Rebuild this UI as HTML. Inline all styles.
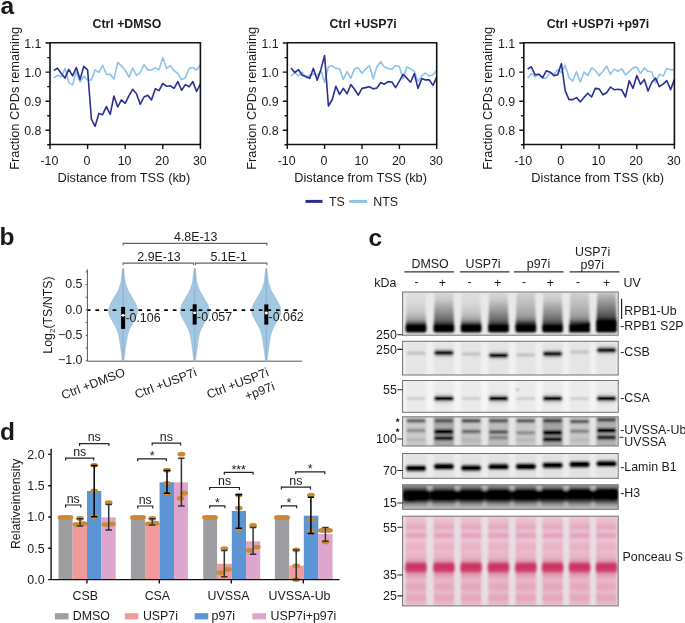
<!DOCTYPE html>
<html><head><meta charset="utf-8"><style>
html,body{margin:0;padding:0;background:#fff;}
svg{display:block;will-change:transform;}
text{font-family:"Liberation Sans", sans-serif;fill:#1a1a1a;}
.t12{font-size:12.4px;}
.t128{font-size:12.8px;}
.t131{font-size:13.1px;}
.b12{font-size:12.3px;font-weight:bold;}
.lab{font-size:24.5px;font-weight:bold;}
.t9{font-size:9px;}
</style></head><body>
<svg width="685" height="623" viewBox="0 0 685 623">
<polyline points="53.8,77.9 57.5,75.3 61.3,76.8 65.0,68.5 68.8,82.6 72.6,84.9 76.3,71.7 80.1,82.0 83.8,76.2 87.6,80.0 91.4,80.0 95.1,69.8 98.9,72.3 102.6,65.3 106.4,74.5 110.2,74.3 113.9,79.1 117.7,62.4 121.4,65.9 125.2,70.2 129.0,77.1 132.7,68.1 136.5,75.4 140.2,72.6 144.0,64.5 147.8,70.0 151.5,70.0 155.3,67.9 159.0,69.7 162.8,57.6 166.6,68.5 170.3,65.5 174.1,70.7 177.8,73.5 181.6,79.7 185.4,77.7 189.1,68.4 192.9,67.5 196.6,70.0 200.4,64.5" fill="none" stroke="#8cc3ea" stroke-width="1.6" stroke-linejoin="round"/>
<polyline points="53.8,70.4 57.5,68.2 61.3,73.6 65.0,78.1 68.8,69.4 72.6,75.9 76.3,67.5 80.1,79.4 83.8,66.3 87.6,69.8 91.4,119.2 95.1,126.3 98.9,113.4 102.6,114.7 106.4,106.6 110.2,114.3 113.9,96.1 117.7,107.0 121.4,99.9 125.2,103.3 129.0,95.7 132.7,89.3 136.5,93.8 140.2,104.3 144.0,97.0 147.8,95.3 151.5,100.0 155.3,88.7 159.0,90.6 162.8,83.5 166.6,86.3 170.3,85.8 174.1,88.4 177.8,81.6 181.6,90.2 185.4,84.6 189.1,86.7 192.9,81.6 196.6,91.5 200.4,83.9" fill="none" stroke="#2b2f8f" stroke-width="1.6" stroke-linejoin="round"/>
<path d="M50.0,144.5 V42.8 H200.4 V144.5 Z" fill="none" stroke="#111" stroke-width="1.6"/>
<path d="M45.5,43.0H50.0M47.2,57.6H50.0M45.5,72.1H50.0M47.2,86.6H50.0M45.5,101.2H50.0M47.2,115.7H50.0M45.5,130.2H50.0M47.2,144.8H50.0M50.0,144.5V148.9M87.6,144.5V148.9M125.2,144.5V148.9M162.8,144.5V148.9M200.4,144.5V148.9" stroke="#111" stroke-width="1.4"/>
<text x="41.4" y="48.0" text-anchor="end" class="t12">1.1</text>
<text x="41.4" y="77.1" text-anchor="end" class="t12">1.0</text>
<text x="41.4" y="106.2" text-anchor="end" class="t12">0.9</text>
<text x="41.4" y="135.2" text-anchor="end" class="t12">0.8</text>
<text x="49.4" y="164.6" text-anchor="middle" class="t12">-10</text>
<text x="87.0" y="164.6" text-anchor="middle" class="t12">0</text>
<text x="124.6" y="164.6" text-anchor="middle" class="t12">10</text>
<text x="162.2" y="164.6" text-anchor="middle" class="t12">20</text>
<text x="199.8" y="164.6" text-anchor="middle" class="t12">30</text>
<text x="126.9" y="27.8" text-anchor="middle" class="b12">Ctrl +DMSO</text>
<text x="123.8" y="182.3" text-anchor="middle" class="t128">Distance from TSS (kb)</text>
<text transform="translate(18.6,98.3) rotate(-90)" text-anchor="middle" class="t128">Fraction CPDs remaining</text>
<polyline points="291.0,76.2 294.8,72.6 298.5,75.8 302.2,72.2 306.0,78.1 309.7,75.2 313.4,73.9 317.2,75.8 320.9,70.7 324.6,82.2 328.4,66.8 332.1,65.8 335.9,68.4 339.6,68.8 343.3,79.4 347.1,71.7 350.8,78.4 354.5,68.8 358.3,67.9 362.0,73.3 365.7,68.8 369.5,65.5 373.2,79.0 376.9,66.8 380.7,61.7 384.4,67.1 388.1,68.5 391.9,69.1 395.6,65.5 399.4,66.6 403.1,79.0 406.8,67.1 410.6,68.8 414.3,71.3 418.0,81.2 421.8,75.6 425.5,73.0 429.2,76.1 433.0,74.8 436.7,70.4" fill="none" stroke="#8cc3ea" stroke-width="1.6" stroke-linejoin="round"/>
<polyline points="291.0,67.9 294.8,72.6 298.5,69.7 302.2,75.2 306.0,76.5 309.7,78.4 313.4,68.4 317.2,80.3 320.9,69.4 324.6,55.5 328.4,106.0 332.1,100.0 335.9,86.3 339.6,94.4 343.3,88.4 347.1,93.8 350.8,84.6 354.5,89.3 358.3,95.1 362.0,88.4 365.7,87.6 369.5,86.7 373.2,88.9 376.9,88.0 380.7,82.5 384.4,84.2 388.1,81.6 391.9,82.0 395.6,87.6 399.4,81.2 403.1,74.3 406.8,78.1 410.6,82.2 414.3,73.5 418.0,88.4 421.8,78.6 425.5,79.9 429.2,79.7 433.0,85.4 436.7,77.1" fill="none" stroke="#2b2f8f" stroke-width="1.6" stroke-linejoin="round"/>
<path d="M287.3,144.5 V42.8 H436.7 V144.5 Z" fill="none" stroke="#111" stroke-width="1.6"/>
<path d="M282.8,43.0H287.3M284.5,57.6H287.3M282.8,72.1H287.3M284.5,86.6H287.3M282.8,101.2H287.3M284.5,115.7H287.3M282.8,130.2H287.3M284.5,144.8H287.3M287.3,144.5V148.9M324.6,144.5V148.9M362.0,144.5V148.9M399.4,144.5V148.9M436.7,144.5V148.9" stroke="#111" stroke-width="1.4"/>
<text x="278.7" y="48.0" text-anchor="end" class="t12">1.1</text>
<text x="278.7" y="77.1" text-anchor="end" class="t12">1.0</text>
<text x="278.7" y="106.2" text-anchor="end" class="t12">0.9</text>
<text x="278.7" y="135.2" text-anchor="end" class="t12">0.8</text>
<text x="286.7" y="164.6" text-anchor="middle" class="t12">-10</text>
<text x="324.0" y="164.6" text-anchor="middle" class="t12">0</text>
<text x="361.4" y="164.6" text-anchor="middle" class="t12">10</text>
<text x="398.8" y="164.6" text-anchor="middle" class="t12">20</text>
<text x="436.1" y="164.6" text-anchor="middle" class="t12">30</text>
<text x="363.1" y="27.8" text-anchor="middle" class="b12">Ctrl +USP7i</text>
<text x="360.6" y="182.3" text-anchor="middle" class="t128">Distance from TSS (kb)</text>
<text transform="translate(255.9,98.3) rotate(-90)" text-anchor="middle" class="t128">Fraction CPDs remaining</text>
<polyline points="527.6,78.1 531.3,73.5 535.1,76.8 538.9,73.9 542.6,78.1 546.4,78.1 550.2,72.2 553.9,74.5 557.7,69.7 561.4,72.6 565.2,65.3 569.0,77.7 572.7,81.2 576.5,71.7 580.3,82.0 584.0,72.2 587.8,75.6 591.6,67.9 595.3,70.4 599.1,75.6 602.9,71.3 606.6,66.2 610.4,74.3 614.2,69.1 617.9,71.3 621.7,68.8 625.5,74.8 629.2,71.7 633.0,67.9 636.8,67.1 640.5,73.5 644.3,67.9 648.0,71.3 651.8,72.0 655.6,82.9 659.3,74.3 663.1,76.1 666.9,68.4 670.6,69.7 674.4,69.7" fill="none" stroke="#8cc3ea" stroke-width="1.6" stroke-linejoin="round"/>
<polyline points="527.6,69.1 531.3,66.8 535.1,74.8 538.9,74.3 542.6,77.7 546.4,70.7 550.2,72.2 553.9,75.6 557.7,74.8 561.4,63.6 565.2,90.6 569.0,99.6 572.7,99.6 576.5,97.6 580.3,101.8 584.0,97.4 587.8,93.2 591.6,97.0 595.3,88.4 599.1,88.9 602.9,94.8 606.6,92.8 610.4,87.1 614.2,89.7 617.9,89.3 621.7,89.9 625.5,97.0 629.2,80.7 633.0,88.4 636.8,75.6 640.5,84.2 644.3,79.4 648.0,91.0 651.8,82.2 655.6,78.1 659.3,86.7 663.1,84.2 666.9,80.7 670.6,89.7 674.4,79.4" fill="none" stroke="#2b2f8f" stroke-width="1.6" stroke-linejoin="round"/>
<path d="M523.8,144.5 V42.8 H674.4 V144.5 Z" fill="none" stroke="#111" stroke-width="1.6"/>
<path d="M519.3,43.0H523.8M521.0,57.6H523.8M519.3,72.1H523.8M521.0,86.6H523.8M519.3,101.2H523.8M521.0,115.7H523.8M519.3,130.2H523.8M521.0,144.8H523.8M523.8,144.5V148.9M561.4,144.5V148.9M599.1,144.5V148.9M636.8,144.5V148.9M674.4,144.5V148.9" stroke="#111" stroke-width="1.4"/>
<text x="515.2" y="48.0" text-anchor="end" class="t12">1.1</text>
<text x="515.2" y="77.1" text-anchor="end" class="t12">1.0</text>
<text x="515.2" y="106.2" text-anchor="end" class="t12">0.9</text>
<text x="515.2" y="135.2" text-anchor="end" class="t12">0.8</text>
<text x="523.2" y="164.6" text-anchor="middle" class="t12">-10</text>
<text x="560.8" y="164.6" text-anchor="middle" class="t12">0</text>
<text x="598.5" y="164.6" text-anchor="middle" class="t12">10</text>
<text x="636.1" y="164.6" text-anchor="middle" class="t12">20</text>
<text x="673.8" y="164.6" text-anchor="middle" class="t12">30</text>
<text x="597.9" y="27.8" text-anchor="middle" class="b12">Ctrl +USP7i +p97i</text>
<text x="597.7" y="182.3" text-anchor="middle" class="t128">Distance from TSS (kb)</text>
<text transform="translate(492.4,98.3) rotate(-90)" text-anchor="middle" class="t128">Fraction CPDs remaining</text>
<path d="M305.5,201.4H322.5" stroke="#2b2f8f" stroke-width="3"/>
<path d="M349.3,201.4H367.2" stroke="#8cc3ea" stroke-width="3"/>
<text x="329" y="205.6" class="t12">TS</text>
<text x="373.3" y="205.6" class="t12">NTS</text>
<text x="0.5" y="13.7" class="lab">a</text>
<path d="M87.4,269.3V361.2H302.3" fill="none" stroke="#555" stroke-width="1"/>
<path d="M85.6,271.8H87.4M85.6,284.5H87.4M85.6,297.2H87.4M85.6,309.9H87.4M85.6,322.6H87.4M85.6,335.3H87.4M85.6,348.0H87.4M85.6,360.7H87.4" stroke="#555" stroke-width="0.9"/>
<text x="82.5" y="288.1" text-anchor="end" class="t12">0.5</text>
<text x="82.5" y="313.5" text-anchor="end" class="t12">0.0</text>
<text x="82.5" y="338.9" text-anchor="end" class="t12">−0.5</text>
<text x="82.5" y="364.3" text-anchor="end" class="t12">−1.0</text>
<text transform="translate(52.3,315) rotate(-90)" text-anchor="middle" class="t12">Log<tspan font-size="8" dy="3">2</tspan><tspan dy="-3">(TS/NTS)</tspan></text>
<path d="M122.60,268.60C122.40,270.28 121.67,276.47 121.40,278.70C121.13,280.93 121.30,280.67 121.00,282.00C120.70,283.33 120.13,285.15 119.60,286.70C119.07,288.25 118.57,289.75 117.80,291.30C117.03,292.85 115.90,294.45 115.00,296.00C114.10,297.55 113.25,299.05 112.40,300.60C111.55,302.15 110.50,303.75 109.90,305.30C109.30,306.85 108.92,308.35 108.80,309.90C108.68,311.45 108.77,313.05 109.20,314.60C109.63,316.15 110.60,317.65 111.40,319.20C112.20,320.75 113.17,322.33 114.00,323.90C114.83,325.47 115.70,327.05 116.40,328.60C117.10,330.15 117.73,331.65 118.20,333.20C118.67,334.75 118.92,336.38 119.20,337.90C119.48,339.42 119.58,340.18 119.90,342.30C120.22,344.42 120.72,347.82 121.10,350.60C121.48,353.38 121.93,357.17 122.20,359.00C122.47,360.83 122.48,361.17 122.70,361.60C122.92,362.03 123.28,362.03 123.50,361.60C123.72,361.17 123.73,360.83 124.00,359.00C124.27,357.17 124.72,353.38 125.10,350.60C125.48,347.82 125.98,344.42 126.30,342.30C126.62,340.18 126.72,339.42 127.00,337.90C127.28,336.38 127.53,334.75 128.00,333.20C128.47,331.65 129.10,330.15 129.80,328.60C130.50,327.05 131.37,325.47 132.20,323.90C133.03,322.33 134.00,320.75 134.80,319.20C135.60,317.65 136.57,316.15 137.00,314.60C137.43,313.05 137.52,311.45 137.40,309.90C137.28,308.35 136.90,306.85 136.30,305.30C135.70,303.75 134.65,302.15 133.80,300.60C132.95,299.05 132.10,297.55 131.20,296.00C130.30,294.45 129.17,292.85 128.40,291.30C127.63,289.75 127.13,288.25 126.60,286.70C126.07,285.15 125.50,283.33 125.20,282.00C124.90,280.67 125.07,280.93 124.80,278.70C124.53,276.47 123.80,270.28 123.60,268.60Z" fill="#a3c8e2" stroke="#8fb6d4" stroke-width="0.6"/>
<path d="M123.1,268.7V361.5" stroke="#86a9c6" stroke-width="0.8"/>
<path d="M194.20,268.60C194.00,270.28 193.27,276.47 193.00,278.70C192.73,280.93 192.90,280.67 192.60,282.00C192.30,283.33 191.73,285.15 191.20,286.70C190.67,288.25 190.17,289.75 189.40,291.30C188.63,292.85 187.50,294.45 186.60,296.00C185.70,297.55 184.85,299.05 184.00,300.60C183.15,302.15 182.10,303.75 181.50,305.30C180.90,306.85 180.52,308.35 180.40,309.90C180.28,311.45 180.37,313.05 180.80,314.60C181.23,316.15 182.20,317.65 183.00,319.20C183.80,320.75 184.77,322.33 185.60,323.90C186.43,325.47 187.30,327.05 188.00,328.60C188.70,330.15 189.33,331.65 189.80,333.20C190.27,334.75 190.52,336.38 190.80,337.90C191.08,339.42 191.18,340.18 191.50,342.30C191.82,344.42 192.32,347.82 192.70,350.60C193.08,353.38 193.53,357.17 193.80,359.00C194.07,360.83 194.08,361.17 194.30,361.60C194.52,362.03 194.88,362.03 195.10,361.60C195.32,361.17 195.33,360.83 195.60,359.00C195.87,357.17 196.32,353.38 196.70,350.60C197.08,347.82 197.58,344.42 197.90,342.30C198.22,340.18 198.32,339.42 198.60,337.90C198.88,336.38 199.13,334.75 199.60,333.20C200.07,331.65 200.70,330.15 201.40,328.60C202.10,327.05 202.97,325.47 203.80,323.90C204.63,322.33 205.60,320.75 206.40,319.20C207.20,317.65 208.17,316.15 208.60,314.60C209.03,313.05 209.12,311.45 209.00,309.90C208.88,308.35 208.50,306.85 207.90,305.30C207.30,303.75 206.25,302.15 205.40,300.60C204.55,299.05 203.70,297.55 202.80,296.00C201.90,294.45 200.77,292.85 200.00,291.30C199.23,289.75 198.73,288.25 198.20,286.70C197.67,285.15 197.10,283.33 196.80,282.00C196.50,280.67 196.67,280.93 196.40,278.70C196.13,276.47 195.40,270.28 195.20,268.60Z" fill="#a3c8e2" stroke="#8fb6d4" stroke-width="0.6"/>
<path d="M194.7,268.7V361.5" stroke="#86a9c6" stroke-width="0.8"/>
<path d="M265.80,268.60C265.60,270.28 264.87,276.47 264.60,278.70C264.33,280.93 264.50,280.67 264.20,282.00C263.90,283.33 263.33,285.15 262.80,286.70C262.27,288.25 261.77,289.75 261.00,291.30C260.23,292.85 259.10,294.45 258.20,296.00C257.30,297.55 256.45,299.05 255.60,300.60C254.75,302.15 253.70,303.75 253.10,305.30C252.50,306.85 252.12,308.35 252.00,309.90C251.88,311.45 251.97,313.05 252.40,314.60C252.83,316.15 253.80,317.65 254.60,319.20C255.40,320.75 256.37,322.33 257.20,323.90C258.03,325.47 258.90,327.05 259.60,328.60C260.30,330.15 260.93,331.65 261.40,333.20C261.87,334.75 262.12,336.38 262.40,337.90C262.68,339.42 262.78,340.18 263.10,342.30C263.42,344.42 263.92,347.82 264.30,350.60C264.68,353.38 265.13,357.17 265.40,359.00C265.67,360.83 265.68,361.17 265.90,361.60C266.12,362.03 266.48,362.03 266.70,361.60C266.92,361.17 266.93,360.83 267.20,359.00C267.47,357.17 267.92,353.38 268.30,350.60C268.68,347.82 269.18,344.42 269.50,342.30C269.82,340.18 269.92,339.42 270.20,337.90C270.48,336.38 270.73,334.75 271.20,333.20C271.67,331.65 272.30,330.15 273.00,328.60C273.70,327.05 274.57,325.47 275.40,323.90C276.23,322.33 277.20,320.75 278.00,319.20C278.80,317.65 279.77,316.15 280.20,314.60C280.63,313.05 280.72,311.45 280.60,309.90C280.48,308.35 280.10,306.85 279.50,305.30C278.90,303.75 277.85,302.15 277.00,300.60C276.15,299.05 275.30,297.55 274.40,296.00C273.50,294.45 272.37,292.85 271.60,291.30C270.83,289.75 270.33,288.25 269.80,286.70C269.27,285.15 268.70,283.33 268.40,282.00C268.10,280.67 268.27,280.93 268.00,278.70C267.73,276.47 267.00,270.28 266.80,268.60Z" fill="#a3c8e2" stroke="#8fb6d4" stroke-width="0.6"/>
<path d="M266.3,268.7V361.5" stroke="#86a9c6" stroke-width="0.8"/>
<path d="M87.8,310.1H302.3" stroke="#000" stroke-width="1.6" stroke-dasharray="3.7,4.9" stroke-dashoffset="1.0"/>
<rect x="121.1" y="306.9" width="4.0" height="22.0" fill="#000"/>
<ellipse cx="123.1" cy="315.3" rx="1.7" ry="1.4" fill="#fff"/>
<text x="125.4" y="322.0" class="t12">-0.106</text>
<rect x="192.7" y="304.3" width="4.0" height="20.3" fill="#000"/>
<ellipse cx="194.7" cy="312.8" rx="1.7" ry="1.4" fill="#fff"/>
<text x="197.0" y="320.8" class="t12">-0.057</text>
<rect x="264.3" y="304.4" width="4.0" height="20.2" fill="#000"/>
<ellipse cx="266.3" cy="313.0" rx="1.7" ry="1.4" fill="#fff"/>
<text x="268.6" y="320.8" class="t12">-0.062</text>
<path d="M123.1,245.5V243.4H266.9V245.5 M123.1,265.2V263.1H193.6V265.2 M195.4,265.2V263.1H266.9V265.2" fill="none" stroke="#666" stroke-width="1.1"/>
<text x="195.7" y="240.8" text-anchor="middle" class="t12">4.8E-13</text>
<text x="159" y="260.5" text-anchor="middle" class="t12">2.9E-13</text>
<text x="228.7" y="260.5" text-anchor="middle" class="t12">5.1E-1</text>
<text transform="translate(126,375.5) rotate(-21)" text-anchor="end" class="t12">Ctrl +DMSO</text>
<text transform="translate(197.5,375.5) rotate(-21)" text-anchor="end" class="t12">Ctrl +USP7i</text>
<text transform="translate(269.5,375.5) rotate(-21)" text-anchor="end" class="t12">Ctrl +USP7i</text>
<text transform="translate(275.5,389.6) rotate(-21)" text-anchor="end" class="t12">+p97i</text>
<text x="-0.4" y="245.3" class="lab">b</text>
<defs>
<filter id="bl" x="-20%" y="-20%" width="140%" height="140%"><feGaussianBlur stdDeviation="0.9"/></filter>
<filter id="bl2" x="-20%" y="-20%" width="140%" height="140%"><feGaussianBlur stdDeviation="0.9"/></filter>
<clipPath id="c_rpb"><rect x="402.6" y="292.0" width="215.6" height="43.2"/></clipPath>
<clipPath id="c_csb"><rect x="402.6" y="341.3" width="215.6" height="33.7"/></clipPath>
<clipPath id="c_csa"><rect x="402.6" y="380.5" width="215.6" height="31.8"/></clipPath>
<clipPath id="c_uv"><rect x="402.6" y="416.8" width="215.6" height="29.2"/></clipPath>
<clipPath id="c_lam"><rect x="402.6" y="453.5" width="215.6" height="24.8"/></clipPath>
<clipPath id="c_h3"><rect x="402.6" y="484.8" width="215.6" height="24.5"/></clipPath>
<clipPath id="c_pon"><rect x="402.6" y="516.2" width="215.6" height="89.7"/></clipPath>
<linearGradient id="gm" gradientUnits="userSpaceOnUse" x1="0" y1="293" x2="0" y2="325"><stop offset="0.000" stop-color="#dedede"/><stop offset="0.375" stop-color="#d6d6d6"/><stop offset="0.625" stop-color="#c4c4c4"/><stop offset="0.781" stop-color="#acacac"/><stop offset="0.875" stop-color="#8a8a8a"/><stop offset="0.953" stop-color="#404040"/><stop offset="1.000" stop-color="#111"/></linearGradient>
<linearGradient id="gm5" gradientUnits="userSpaceOnUse" x1="0" y1="293" x2="0" y2="324.5"><stop offset="0.000" stop-color="#cecece"/><stop offset="0.222" stop-color="#c4c4c4"/><stop offset="0.476" stop-color="#b4b4b4"/><stop offset="0.698" stop-color="#a2a2a2"/><stop offset="0.825" stop-color="#888"/><stop offset="0.937" stop-color="#404040"/><stop offset="1.000" stop-color="#111"/></linearGradient>
<linearGradient id="gp" gradientUnits="userSpaceOnUse" x1="0" y1="293" x2="0" y2="325"><stop offset="0.000" stop-color="#d6d6d6"/><stop offset="0.219" stop-color="#c8c8c8"/><stop offset="0.406" stop-color="#acacac"/><stop offset="0.562" stop-color="#969696"/><stop offset="0.719" stop-color="#7e7e7e"/><stop offset="0.844" stop-color="#666"/><stop offset="0.938" stop-color="#444"/><stop offset="1.000" stop-color="#111"/></linearGradient>
<linearGradient id="gp8" gradientUnits="userSpaceOnUse" x1="0" y1="293" x2="0" y2="319.5"><stop offset="0.000" stop-color="#bcbcbc"/><stop offset="0.189" stop-color="#acacac"/><stop offset="0.377" stop-color="#939393"/><stop offset="0.566" stop-color="#7c7c7c"/><stop offset="0.755" stop-color="#646464"/><stop offset="0.906" stop-color="#4a4a4a"/><stop offset="1.000" stop-color="#222"/></linearGradient>
<linearGradient id="gh3" gradientUnits="userSpaceOnUse" x1="0" y1="484.5" x2="0" y2="509.5"><stop offset="0.000" stop-color="#9a9a9a"/><stop offset="0.100" stop-color="#808080"/><stop offset="0.200" stop-color="#444"/><stop offset="0.300" stop-color="#111"/><stop offset="0.580" stop-color="#111"/><stop offset="0.700" stop-color="#555"/><stop offset="0.820" stop-color="#a0a0a0"/><stop offset="1.000" stop-color="#c4c4c4"/></linearGradient>
<linearGradient id="gpon" gradientUnits="userSpaceOnUse" x1="0" y1="516" x2="0" y2="606"><stop offset="0.000" stop-color="#eec8d6"/><stop offset="0.067" stop-color="#eabccc"/><stop offset="0.130" stop-color="#e2a6bc"/><stop offset="0.167" stop-color="#ecc2d2"/><stop offset="0.218" stop-color="#e09eb8"/><stop offset="0.267" stop-color="#edc6d4"/><stop offset="0.333" stop-color="#e6b0c4"/><stop offset="0.400" stop-color="#eabacc"/><stop offset="0.467" stop-color="#e6b0c4"/><stop offset="0.506" stop-color="#de92ae"/><stop offset="0.528" stop-color="#d04270"/><stop offset="0.556" stop-color="#c82c5c"/><stop offset="0.589" stop-color="#cc3664"/><stop offset="0.617" stop-color="#d4587e"/><stop offset="0.644" stop-color="#e096b0"/><stop offset="0.711" stop-color="#eab8ca"/><stop offset="0.796" stop-color="#e2a6bc"/><stop offset="0.844" stop-color="#eabacc"/><stop offset="0.909" stop-color="#e0a2ba"/><stop offset="0.956" stop-color="#e8b4c6"/><stop offset="1.000" stop-color="#eabccc"/></linearGradient>
</defs>
<g clip-path="url(#c_rpb)"><rect x="402.6" y="292.0" width="215.6" height="43.2" fill="#e8e8e8"/>
<g filter="url(#bl)"><path d="M406.9,293 H425.1 L426.2,328 H405.8 Z" fill="url(#gm)"/><rect x="405.6" y="324.0" width="20.8" height="8.6" rx="2" fill="#050505"/><path d="M434.8,293 H453.0 L454.1,328 H433.7 Z" fill="url(#gp)"/><rect x="433.5" y="324.6" width="20.8" height="8.0" rx="2" fill="#050505"/><path d="M462.0,293 H480.2 L481.3,328 H460.9 Z" fill="url(#gm)"/><rect x="460.7" y="324.0" width="20.8" height="8.6" rx="2" fill="#050505"/><path d="M489.4,293 H507.6 L508.7,328 H488.3 Z" fill="url(#gp)"/><rect x="488.1" y="324.4" width="20.8" height="8.2" rx="2" fill="#050505"/><path d="M516.7,293 H534.9 L536.0,328 H515.6 Z" fill="url(#gm5)"/><rect x="515.4" y="324.2" width="20.8" height="8.4" rx="2" fill="#050505"/><path d="M543.5,293 H561.7 L562.8,328 H542.4 Z" fill="url(#gp)"/><rect x="542.2" y="324.8" width="20.8" height="7.8" rx="2" fill="#050505"/><path d="M570.5,293 H588.7 L589.8,328 H569.4 Z" fill="url(#gm5)"/><path d="M569.2,325.2 L590.0,322.2 V332.6 H569.2 Z" fill="#050505"/><path d="M597.4,293 H615.6 L616.7,328 H596.3 Z" fill="url(#gp8)"/><rect x="596.1" y="319.8" width="20.8" height="12.8" rx="2" fill="#050505"/></g></g>
<rect x="402.6" y="292.0" width="215.6" height="43.2" fill="none" stroke="#707070" stroke-width="1"/>
<g clip-path="url(#c_csb)"><rect x="402.6" y="341.3" width="215.6" height="33.7" fill="#f0f0f0"/>
<g filter="url(#bl)"><rect x="405.8" y="342" width="20.4" height="33" fill="#e5e5e5"/><rect x="406.6" y="351.7" width="18.9" height="3.0" rx="1.5" fill="#bdbdbd" opacity="1"/><rect x="433.7" y="342" width="20.4" height="33" fill="#e5e5e5"/><rect x="433.7" y="347.9" width="20.4" height="10.0" rx="4" fill="#c8c8c8" opacity="0.6"/><rect x="434.2" y="350.5" width="19.4" height="4.8" rx="2.4" fill="#000" opacity="1"/><rect x="460.9" y="342" width="20.4" height="33" fill="#e5e5e5"/><rect x="461.7" y="352.6" width="18.9" height="3.0" rx="1.5" fill="#bdbdbd" opacity="1"/><rect x="488.3" y="342" width="20.4" height="33" fill="#e5e5e5"/><rect x="488.3" y="350.3" width="20.4" height="10.0" rx="4" fill="#c8c8c8" opacity="0.6"/><rect x="488.8" y="352.9" width="19.4" height="4.8" rx="2.4" fill="#000" opacity="1"/><rect x="515.6" y="342" width="20.4" height="33" fill="#e5e5e5"/><rect x="516.3" y="353.4" width="18.9" height="3.0" rx="1.5" fill="#bdbdbd" opacity="1"/><rect x="542.4" y="342" width="20.4" height="33" fill="#e5e5e5"/><rect x="542.4" y="348.8" width="20.4" height="10.0" rx="4" fill="#c8c8c8" opacity="0.6"/><rect x="542.9" y="351.4" width="19.4" height="4.8" rx="2.4" fill="#000" opacity="1"/><rect x="569.4" y="342" width="20.4" height="33" fill="#e5e5e5"/><rect x="570.1" y="350.6" width="18.9" height="3.0" rx="1.5" fill="#bdbdbd" opacity="1"/><rect x="596.3" y="342" width="20.4" height="33" fill="#e5e5e5"/><rect x="596.3" y="345.2" width="20.4" height="10.0" rx="4" fill="#c8c8c8" opacity="0.6"/><rect x="596.8" y="347.8" width="19.4" height="4.8" rx="2.4" fill="#000" opacity="1"/></g></g>
<rect x="402.6" y="341.3" width="215.6" height="33.7" fill="none" stroke="#707070" stroke-width="1"/>
<g clip-path="url(#c_csa)"><rect x="402.6" y="380.5" width="215.6" height="31.8" fill="#f5f5f5"/>
<g filter="url(#bl)"><rect x="405.8" y="381" width="20.4" height="31" fill="#ebebeb"/><rect x="406.6" y="397.3" width="18.9" height="2.8" rx="1.5" fill="#cacaca" opacity="1"/><rect x="433.7" y="381" width="20.4" height="31" fill="#ebebeb"/><rect x="433.7" y="392.5" width="20.4" height="12.0" rx="5" fill="#cfcfcf" opacity="0.6"/><rect x="434.2" y="395.9" width="19.4" height="5.2" rx="2.5" fill="#000" opacity="1"/><rect x="460.9" y="381" width="20.4" height="31" fill="#ebebeb"/><rect x="461.7" y="397.3" width="18.9" height="2.8" rx="1.5" fill="#cacaca" opacity="1"/><rect x="488.3" y="381" width="20.4" height="31" fill="#ebebeb"/><rect x="488.3" y="392.5" width="20.4" height="12.0" rx="5" fill="#cfcfcf" opacity="0.6"/><rect x="488.8" y="395.9" width="19.4" height="5.2" rx="2.5" fill="#000" opacity="1"/><rect x="515.6" y="381" width="20.4" height="31" fill="#ebebeb"/><rect x="516.3" y="397.3" width="18.9" height="2.8" rx="1.5" fill="#cacaca" opacity="1"/><rect x="542.4" y="381" width="20.4" height="31" fill="#ebebeb"/><rect x="542.4" y="392.5" width="20.4" height="12.0" rx="5" fill="#cfcfcf" opacity="0.6"/><rect x="542.9" y="395.9" width="19.4" height="5.2" rx="2.5" fill="#000" opacity="1"/><rect x="569.4" y="381" width="20.4" height="31" fill="#ebebeb"/><rect x="570.1" y="397.3" width="18.9" height="2.8" rx="1.5" fill="#cacaca" opacity="1"/><rect x="596.3" y="381" width="20.4" height="31" fill="#ebebeb"/><rect x="596.3" y="392.5" width="20.4" height="12.0" rx="5" fill="#cfcfcf" opacity="0.6"/><rect x="596.8" y="395.9" width="19.4" height="5.2" rx="2.5" fill="#000" opacity="1"/><ellipse cx="517.5" cy="389.7" rx="1.5" ry="0.9" fill="#888"/></g></g>
<rect x="402.6" y="380.5" width="215.6" height="31.8" fill="none" stroke="#707070" stroke-width="1"/>
<g clip-path="url(#c_uv)"><rect x="402.6" y="416.8" width="215.6" height="29.2" fill="#e4e4e4"/>
<g filter="url(#bl)"><rect x="405.8" y="416" width="20.4" height="31" fill="#cacaca"/><rect x="406.6" y="419.1" width="18.9" height="3.4" rx="1.5" fill="#555" opacity="1"/><rect x="406.6" y="428.8" width="18.9" height="3.4" rx="1.5" fill="#8a8a8a" opacity="1"/><rect x="406.6" y="437.9" width="18.9" height="3.2" rx="1.5" fill="#b4b4b4" opacity="1"/><rect x="433.7" y="416" width="20.4" height="31" fill="#a8a8a8"/><rect x="434.4" y="419.1" width="18.9" height="3.4" rx="1.5" fill="#4a4a4a" opacity="1"/><rect x="434.4" y="429.3" width="18.9" height="5.0" rx="1.5" fill="#000" opacity="1"/><rect x="434.4" y="435.9" width="18.9" height="4.3" rx="1.5" fill="#000" opacity="1"/><rect x="460.9" y="416" width="20.4" height="31" fill="#c4c4c4"/><rect x="461.7" y="419.1" width="18.9" height="3.4" rx="1.5" fill="#3a3a3a" opacity="1"/><rect x="461.7" y="429.8" width="18.9" height="3.4" rx="1.5" fill="#606060" opacity="1"/><rect x="461.7" y="438.4" width="18.9" height="3.2" rx="1.5" fill="#b4b4b4" opacity="1"/><rect x="488.3" y="416" width="20.4" height="31" fill="#bcbcbc"/><rect x="489.1" y="419.1" width="18.9" height="3.4" rx="1.5" fill="#484848" opacity="1"/><rect x="489.1" y="430.3" width="18.9" height="3.4" rx="1.5" fill="#484848" opacity="1"/><rect x="489.1" y="436.0" width="18.9" height="3.2" rx="1.5" fill="#7a7a7a" opacity="1"/><rect x="515.6" y="416" width="20.4" height="31" fill="#c8c8c8"/><rect x="516.3" y="419.1" width="18.9" height="3.4" rx="1.5" fill="#484848" opacity="1"/><rect x="516.3" y="431.1" width="18.9" height="3.4" rx="1.5" fill="#8a8a8a" opacity="1"/><rect x="516.3" y="438.4" width="18.9" height="3.2" rx="1.5" fill="#b4b4b4" opacity="1"/><rect x="542.4" y="416" width="20.4" height="31" fill="#a4a4a4"/><rect x="543.1" y="419.1" width="18.9" height="3.4" rx="1.5" fill="#303030" opacity="1"/><rect x="543.1" y="430.3" width="18.9" height="5.0" rx="1.5" fill="#000" opacity="1"/><rect x="543.1" y="437.1" width="18.9" height="4.3" rx="1.5" fill="#000" opacity="1"/><rect x="569.4" y="416" width="20.4" height="31" fill="#c8c8c8"/><rect x="570.1" y="419.8" width="18.9" height="3.4" rx="1.5" fill="#484848" opacity="1"/><rect x="570.1" y="429.6" width="18.9" height="3.4" rx="1.5" fill="#808080" opacity="1"/><rect x="570.1" y="438.4" width="18.9" height="3.2" rx="1.5" fill="#b8b8b8" opacity="1"/><rect x="596.3" y="416" width="20.4" height="31" fill="#b0b0b0"/><rect x="597.0" y="418.1" width="18.9" height="3.4" rx="1.5" fill="#383838" opacity="1"/><rect x="597.0" y="428.0" width="18.9" height="5.0" rx="1.5" fill="#000" opacity="1"/><rect x="597.0" y="435.2" width="18.9" height="4.3" rx="1.5" fill="#1a1a1a" opacity="1"/></g></g>
<rect x="402.6" y="416.8" width="215.6" height="29.2" fill="none" stroke="#707070" stroke-width="1"/>
<g clip-path="url(#c_lam)"><rect x="402.6" y="453.5" width="215.6" height="24.8" fill="#ececec"/>
<g filter="url(#bl)"><rect x="405.8" y="454" width="20.4" height="24" fill="#e2e2e2"/><rect x="405.9" y="464.9" width="20.2" height="6.6" rx="2.8" fill="#050505" opacity="1"/><rect x="433.7" y="454" width="20.4" height="24" fill="#e2e2e2"/><rect x="433.8" y="463.3" width="20.2" height="6.6" rx="2.8" fill="#050505" opacity="1"/><rect x="460.9" y="454" width="20.4" height="24" fill="#e2e2e2"/><rect x="461.0" y="464.7" width="20.2" height="6.6" rx="2.8" fill="#050505" opacity="1"/><rect x="488.3" y="454" width="20.4" height="24" fill="#e2e2e2"/><rect x="488.4" y="463.5" width="20.2" height="6.6" rx="2.8" fill="#050505" opacity="1"/><rect x="515.6" y="454" width="20.4" height="24" fill="#e2e2e2"/><rect x="515.7" y="463.3" width="20.2" height="6.6" rx="2.8" fill="#050505" opacity="1"/><rect x="542.4" y="454" width="20.4" height="24" fill="#e2e2e2"/><rect x="542.5" y="462.0" width="20.2" height="6.6" rx="2.8" fill="#050505" opacity="1"/><rect x="569.4" y="454" width="20.4" height="24" fill="#e2e2e2"/><rect x="569.5" y="461.1" width="20.2" height="6.6" rx="2.8" fill="#050505" opacity="1"/><rect x="596.3" y="454" width="20.4" height="24" fill="#e2e2e2"/><rect x="596.4" y="460.5" width="20.2" height="6.6" rx="2.8" fill="#050505" opacity="1"/></g></g>
<rect x="402.6" y="453.5" width="215.6" height="24.8" fill="none" stroke="#707070" stroke-width="1"/>
<g clip-path="url(#c_h3)"><rect x="402.6" y="484.8" width="215.6" height="24.5" fill="#a4a4a4"/>
<g filter="url(#bl)"><rect x="402.6" y="484" width="215.6" height="26" fill="url(#gh3)"/><rect x="402.8" y="490.3" width="26.4" height="11.0" rx="5" fill="#000" opacity="1"/><rect x="430.7" y="490.0" width="26.4" height="11.0" rx="5" fill="#000" opacity="1"/><rect x="457.9" y="489.8" width="26.4" height="11.0" rx="5" fill="#000" opacity="1"/><rect x="485.3" y="489.6" width="26.4" height="11.0" rx="5" fill="#000" opacity="1"/><rect x="512.6" y="489.4" width="26.4" height="11.0" rx="5" fill="#000" opacity="1"/><rect x="539.4" y="489.1" width="26.4" height="11.0" rx="5" fill="#000" opacity="1"/><rect x="566.4" y="488.8" width="26.4" height="11.0" rx="5" fill="#000" opacity="1"/><rect x="593.3" y="488.5" width="26.4" height="11.0" rx="5" fill="#000" opacity="1"/><rect x="426.9" y="485" width="6" height="5.5" rx="2.5" fill="#c0c0c0" opacity="0.8"/><rect x="427.4" y="501.5" width="5" height="5.5" rx="2.5" fill="#c8c8c8" opacity="0.6"/><rect x="454.5" y="485" width="6" height="5.5" rx="2.5" fill="#c0c0c0" opacity="0.8"/><rect x="455.0" y="501.5" width="5" height="5.5" rx="2.5" fill="#c8c8c8" opacity="0.6"/><rect x="481.8" y="485" width="6" height="5.5" rx="2.5" fill="#c0c0c0" opacity="0.8"/><rect x="482.3" y="501.5" width="5" height="5.5" rx="2.5" fill="#c8c8c8" opacity="0.6"/><rect x="509.1" y="485" width="6" height="5.5" rx="2.5" fill="#c0c0c0" opacity="0.8"/><rect x="509.6" y="501.5" width="5" height="5.5" rx="2.5" fill="#c8c8c8" opacity="0.6"/><rect x="536.2" y="485" width="6" height="5.5" rx="2.5" fill="#c0c0c0" opacity="0.8"/><rect x="536.7" y="501.5" width="5" height="5.5" rx="2.5" fill="#c8c8c8" opacity="0.6"/><rect x="563.1" y="485" width="6" height="5.5" rx="2.5" fill="#c0c0c0" opacity="0.8"/><rect x="563.6" y="501.5" width="5" height="5.5" rx="2.5" fill="#c8c8c8" opacity="0.6"/><rect x="590.0" y="485" width="6" height="5.5" rx="2.5" fill="#c0c0c0" opacity="0.8"/><rect x="590.5" y="501.5" width="5" height="5.5" rx="2.5" fill="#c8c8c8" opacity="0.6"/><ellipse cx="411" cy="496" rx="7" ry="6.2" fill="#000"/><ellipse cx="612" cy="494.5" rx="6" ry="6" fill="#000"/></g></g>
<rect x="402.6" y="484.8" width="215.6" height="24.5" fill="none" stroke="#707070" stroke-width="1"/>
<g clip-path="url(#c_pon)"><rect x="402.6" y="516.2" width="215.6" height="89.7" fill="#e6dee2"/>
<g filter="url(#bl2)"><rect x="405.8" y="516" width="20.4" height="90" fill="url(#gpon)"/><rect x="404.6" y="563.5" width="22.8" height="8.5" rx="3" fill="#cc3a66" opacity="0.5"/><rect x="433.7" y="516" width="20.4" height="90" fill="url(#gpon)"/><rect x="432.5" y="563.5" width="22.8" height="8.5" rx="3" fill="#cc3a66" opacity="0.5"/><rect x="460.9" y="516" width="20.4" height="90" fill="url(#gpon)"/><rect x="459.7" y="563.5" width="22.8" height="8.5" rx="3" fill="#cc3a66" opacity="0.5"/><rect x="488.3" y="516" width="20.4" height="90" fill="url(#gpon)"/><rect x="487.1" y="563.5" width="22.8" height="8.5" rx="3" fill="#cc3a66" opacity="0.5"/><rect x="515.6" y="516" width="20.4" height="90" fill="url(#gpon)"/><rect x="514.4" y="563.5" width="22.8" height="8.5" rx="3" fill="#cc3a66" opacity="0.5"/><rect x="542.4" y="516" width="20.4" height="90" fill="url(#gpon)"/><rect x="541.2" y="563.5" width="22.8" height="8.5" rx="3" fill="#cc3a66" opacity="0.5"/><rect x="569.4" y="516" width="20.4" height="90" fill="url(#gpon)"/><rect x="568.2" y="563.5" width="22.8" height="8.5" rx="3" fill="#cc3a66" opacity="0.5"/><rect x="596.3" y="516" width="20.4" height="90" fill="url(#gpon)"/><rect x="595.1" y="563.5" width="22.8" height="8.5" rx="3" fill="#cc3a66" opacity="0.5"/></g></g>
<rect x="402.6" y="516.2" width="215.6" height="89.7" fill="none" stroke="#707070" stroke-width="1"/>
<text x="368.5" y="245.5" class="lab">c</text>
<path d="M404.4,271.8H453.9 M460,271.8H509.5 M514,271.8H563.5 M569.7,271.8H619.4" stroke="#333" stroke-width="1.2"/>
<path d="M397.4,334.8H402.6M397.4,349.4H402.6M397.4,389.8H402.6M397.4,439.0H402.6M397.4,470.5H402.6M397.4,503.0H402.6M397.4,527.3H402.6M397.4,575.0H402.6M397.4,595.9H402.6" stroke="#222" stroke-width="1.1"/>
<polygon points="397.70,417.80 398.29,419.49 400.08,419.53 398.65,420.61 399.17,422.32 397.70,421.30 396.23,422.32 396.75,420.61 395.32,419.53 397.11,419.49" fill="#111"/>
<polygon points="397.60,427.70 398.19,429.39 399.98,429.43 398.55,430.51 399.07,432.22 397.60,431.20 396.13,432.22 396.65,430.51 395.22,429.43 397.01,429.39" fill="#111"/>
<path d="M621.6,298.7V319" stroke="#222" stroke-width="1.2"/>
<path d="M619.5,437.3H623.5" stroke="#222" stroke-width="1"/>
<text x="430.1" y="267.6" text-anchor="middle" class="t12">DMSO</text>
<text x="483" y="267.6" text-anchor="middle" class="t12">USP7i</text>
<text x="538.5" y="267.6" text-anchor="middle" class="t12">p97i</text>
<text x="592.6" y="255.5" text-anchor="middle" class="t12">USP7i</text>
<text x="592.3" y="268.5" text-anchor="middle" class="t12">p97i</text>
<text x="374.3" y="287.4" text-anchor="start" class="t12">kDa</text>
<text x="416.5" y="286.0" text-anchor="middle" class="t12">-</text>
<text x="442.4" y="287.0" text-anchor="middle" class="t12">+</text>
<text x="469.5" y="286.0" text-anchor="middle" class="t12">-</text>
<text x="497.5" y="287.0" text-anchor="middle" class="t12">+</text>
<text x="524.0" y="286.0" text-anchor="middle" class="t12">-</text>
<text x="550.3" y="287.0" text-anchor="middle" class="t12">+</text>
<text x="578.0" y="286.0" text-anchor="middle" class="t12">-</text>
<text x="606.7" y="287.0" text-anchor="middle" class="t12">+</text>
<text x="623.5" y="286.8" text-anchor="start" class="t12">UV</text>
<text x="396.8" y="339.1" text-anchor="end" class="t12">250</text>
<text x="396.8" y="353.7" text-anchor="end" class="t12">250</text>
<text x="396.8" y="394.1" text-anchor="end" class="t12">55</text>
<text x="396.8" y="443.3" text-anchor="end" class="t12">100</text>
<text x="396.8" y="474.8" text-anchor="end" class="t12">70</text>
<text x="396.8" y="507.3" text-anchor="end" class="t12">15</text>
<text x="396.8" y="531.6" text-anchor="end" class="t12">55</text>
<text x="396.8" y="579.3" text-anchor="end" class="t12">35</text>
<text x="396.8" y="600.2" text-anchor="end" class="t12">25</text>
<text x="624.2" y="315" text-anchor="start" class="t12">RPB1-Ub</text>
<text x="620.2" y="330" text-anchor="start" class="t12">-RPB1 S2P</text>
<text x="620.2" y="356.2" text-anchor="start" class="t12">-CSB</text>
<text x="620.2" y="402.4" text-anchor="start" class="t12">-CSA</text>
<text x="620.2" y="433.6" text-anchor="start" class="t12">-UVSSA-Ub</text>
<text x="624.3" y="445.6" text-anchor="start" class="t12">UVSSA</text>
<text x="620.2" y="471.0" text-anchor="start" class="t12">-Lamin B1</text>
<text x="620.2" y="497.2" text-anchor="start" class="t12">-H3</text>
<text x="622.5" y="561.4" text-anchor="start" class="t12">Ponceau S</text>
<rect x="58.5" y="517.4" width="14.1" height="62.2" fill="#9e9da2"/>
<rect x="72.6" y="522.9" width="14.4" height="56.7" fill="#f09a9a"/>
<rect x="87.0" y="491.0" width="14.3" height="88.6" fill="#5b95d4"/>
<rect x="101.3" y="517.4" width="14.4" height="62.2" fill="#dda6cc"/>
<rect x="130.9" y="517.4" width="14.2" height="62.2" fill="#9e9da2"/>
<rect x="145.1" y="523.2" width="14.5" height="56.4" fill="#f09a9a"/>
<rect x="159.6" y="482.3" width="14.4" height="97.3" fill="#5b95d4"/>
<rect x="174.0" y="482.3" width="13.9" height="97.3" fill="#dda6cc"/>
<rect x="203.2" y="517.4" width="13.9" height="62.2" fill="#9e9da2"/>
<rect x="217.1" y="563.8" width="14.7" height="15.8" fill="#f09a9a"/>
<rect x="231.8" y="510.9" width="14.2" height="68.7" fill="#5b95d4"/>
<rect x="246.0" y="541.3" width="14.2" height="38.3" fill="#dda6cc"/>
<rect x="274.9" y="517.4" width="14.3" height="62.2" fill="#9e9da2"/>
<rect x="289.2" y="565.6" width="14.6" height="14.0" fill="#f09a9a"/>
<rect x="303.8" y="515.7" width="14.5" height="63.9" fill="#5b95d4"/>
<rect x="318.3" y="534.1" width="14.3" height="45.5" fill="#dda6cc"/>
<ellipse cx="61.5" cy="517.4" rx="3.9" ry="2.4" fill="#c98a33"/>
<ellipse cx="65.5" cy="517.4" rx="3.9" ry="2.4" fill="#c98a33"/>
<ellipse cx="69.5" cy="517.4" rx="3.9" ry="2.4" fill="#c98a33"/>
<ellipse cx="80" cy="518.4" rx="3.9" ry="2.4" fill="#c98a33"/>
<ellipse cx="76.5" cy="524.3" rx="3.9" ry="2.4" fill="#c98a33"/>
<ellipse cx="83.5" cy="523.6" rx="3.9" ry="2.4" fill="#c98a33"/>
<ellipse cx="94.2" cy="465.3" rx="3.9" ry="2.4" fill="#c98a33"/>
<ellipse cx="94.2" cy="491" rx="3.9" ry="2.4" fill="#c98a33"/>
<ellipse cx="94.2" cy="516.5" rx="3.9" ry="2.4" fill="#c98a33"/>
<ellipse cx="108.7" cy="502.6" rx="3.9" ry="2.4" fill="#c98a33"/>
<ellipse cx="105.5" cy="524.6" rx="3.9" ry="2.4" fill="#c98a33"/>
<ellipse cx="111.8" cy="524.1" rx="3.9" ry="2.4" fill="#c98a33"/>
<ellipse cx="134" cy="517.4" rx="3.9" ry="2.4" fill="#c98a33"/>
<ellipse cx="138" cy="517.4" rx="3.9" ry="2.4" fill="#c98a33"/>
<ellipse cx="142" cy="517.4" rx="3.9" ry="2.4" fill="#c98a33"/>
<ellipse cx="152.2" cy="518.4" rx="3.9" ry="2.4" fill="#c98a33"/>
<ellipse cx="148.8" cy="523.8" rx="3.9" ry="2.4" fill="#c98a33"/>
<ellipse cx="155.5" cy="523.2" rx="3.9" ry="2.4" fill="#c98a33"/>
<ellipse cx="167" cy="470.2" rx="3.9" ry="2.4" fill="#c98a33"/>
<ellipse cx="167" cy="483.3" rx="3.9" ry="2.4" fill="#c98a33"/>
<ellipse cx="167" cy="493.2" rx="3.9" ry="2.4" fill="#c98a33"/>
<ellipse cx="181.4" cy="454.2" rx="3.9" ry="2.4" fill="#c98a33"/>
<ellipse cx="184" cy="493.2" rx="3.9" ry="2.4" fill="#c98a33"/>
<ellipse cx="180.6" cy="498.4" rx="3.9" ry="2.4" fill="#c98a33"/>
<ellipse cx="206" cy="517.4" rx="3.9" ry="2.4" fill="#c98a33"/>
<ellipse cx="210" cy="517.4" rx="3.9" ry="2.4" fill="#c98a33"/>
<ellipse cx="214" cy="517.4" rx="3.9" ry="2.4" fill="#c98a33"/>
<ellipse cx="224.3" cy="548.6" rx="3.9" ry="2.4" fill="#c98a33"/>
<ellipse cx="220.6" cy="572.7" rx="3.9" ry="2.4" fill="#c98a33"/>
<ellipse cx="228" cy="569.4" rx="3.9" ry="2.4" fill="#c98a33"/>
<ellipse cx="238.8" cy="495.1" rx="3.9" ry="2.4" fill="#c98a33"/>
<ellipse cx="238.8" cy="508.1" rx="3.9" ry="2.4" fill="#c98a33"/>
<ellipse cx="238.8" cy="529.3" rx="3.9" ry="2.4" fill="#c98a33"/>
<ellipse cx="253.1" cy="525.4" rx="3.9" ry="2.4" fill="#c98a33"/>
<ellipse cx="249.6" cy="550.4" rx="3.9" ry="2.4" fill="#c98a33"/>
<ellipse cx="256.8" cy="547.1" rx="3.9" ry="2.4" fill="#c98a33"/>
<ellipse cx="278" cy="517.4" rx="3.9" ry="2.4" fill="#c98a33"/>
<ellipse cx="282" cy="517.4" rx="3.9" ry="2.4" fill="#c98a33"/>
<ellipse cx="286" cy="517.4" rx="3.9" ry="2.4" fill="#c98a33"/>
<ellipse cx="296.2" cy="550" rx="3.9" ry="2.4" fill="#c98a33"/>
<ellipse cx="296.2" cy="566" rx="3.9" ry="2.4" fill="#c98a33"/>
<ellipse cx="296.2" cy="579.6" rx="3.9" ry="2.4" fill="#c98a33"/>
<ellipse cx="310.9" cy="495.1" rx="3.9" ry="2.4" fill="#c98a33"/>
<ellipse cx="310.9" cy="520" rx="3.9" ry="2.4" fill="#c98a33"/>
<ellipse cx="310.9" cy="530.9" rx="3.9" ry="2.4" fill="#c98a33"/>
<ellipse cx="322" cy="530.4" rx="3.9" ry="2.4" fill="#c98a33"/>
<ellipse cx="329" cy="530.4" rx="3.9" ry="2.4" fill="#c98a33"/>
<ellipse cx="325.4" cy="542.1" rx="3.9" ry="2.4" fill="#c98a33"/>
<path d="M80.0,518.8V526.0M76.8,518.8H83.2M76.8,526.0H83.2" stroke="#333" stroke-width="1.5" fill="none"/>
<path d="M94.2,465.4V516.8M91.0,465.4H97.4M91.0,516.8H97.4" stroke="#000" stroke-width="1.5" fill="none"/>
<path d="M108.7,504.4V530.1M105.5,504.4H111.9M105.5,530.1H111.9" stroke="#333" stroke-width="1.5" fill="none"/>
<path d="M152.2,518.8V525.1M149.0,518.8H155.4M149.0,525.1H155.4" stroke="#333" stroke-width="1.5" fill="none"/>
<path d="M167.0,470.5V493.2M163.8,470.5H170.2M163.8,493.2H170.2" stroke="#000" stroke-width="1.5" fill="none"/>
<path d="M181.4,458.2V506.0M178.2,458.2H184.6M178.2,506.0H184.6" stroke="#333" stroke-width="1.5" fill="none"/>
<path d="M224.3,550.4V576.8M221.1,550.4H227.5M221.1,576.8H227.5" stroke="#333" stroke-width="1.5" fill="none"/>
<path d="M238.8,494.7V528.3M235.6,494.7H242.0M235.6,528.3H242.0" stroke="#000" stroke-width="1.5" fill="none"/>
<path d="M253.1,527.6V554.3M249.9,527.6H256.3M249.9,554.3H256.3" stroke="#333" stroke-width="1.5" fill="none"/>
<path d="M296.2,550.0V579.6M293.0,550.0H299.4M293.0,579.6H299.4" stroke="#333" stroke-width="1.5" fill="none"/>
<path d="M310.9,497.3V533.5M307.7,497.3H314.1M307.7,533.5H314.1" stroke="#000" stroke-width="1.5" fill="none"/>
<path d="M325.4,527.6V541.3M322.2,527.6H328.6M322.2,541.3H328.6" stroke="#333" stroke-width="1.5" fill="none"/>
<path d="M51.1,448.7V579.6H339.5 M48.2,579.6H51.1M48.2,548.3H51.1M48.2,517.0H51.1M48.2,485.7H51.1M48.2,454.4H51.1M86.9,579.6V583.6M159.3,579.6V583.6M231.3,579.6V583.6M303.3,579.6V583.6" stroke="#111" stroke-width="1.4" fill="none"/>
<text x="44.6" y="583.9" text-anchor="end" class="t12">0.0</text>
<text x="44.6" y="552.6" text-anchor="end" class="t12">0.5</text>
<text x="44.6" y="521.3" text-anchor="end" class="t12">1.0</text>
<text x="44.6" y="490.0" text-anchor="end" class="t12">1.5</text>
<text x="44.6" y="458.7" text-anchor="end" class="t12">2.0</text>
<text transform="translate(20.0,504.0) rotate(-90)" text-anchor="middle" class="t12">Relativeintensity</text>
<text x="85.2" y="599.6" text-anchor="middle" class="t12">CSB</text>
<text x="157.4" y="599.6" text-anchor="middle" class="t12">CSA</text>
<text x="228.5" y="599.6" text-anchor="middle" class="t12">UVSSA</text>
<text x="299.5" y="599.6" text-anchor="middle" class="t12">UVSSA-Ub</text>
<text x="73.2" y="502.8" text-anchor="middle" class="t12">ns</text>
<text x="79.7" y="456.0" text-anchor="middle" class="t12">ns</text>
<text x="94.2" y="441.4" text-anchor="middle" class="t12">ns</text>
<text x="145.2" y="503.8" text-anchor="middle" class="t12">ns</text>
<text x="152.1" y="460.0" text-anchor="middle" class="t12">*</text>
<text x="166.4" y="441.0" text-anchor="middle" class="t12">ns</text>
<text x="217.3" y="507.1" text-anchor="middle" class="t12">*</text>
<text x="224.6" y="485.3" text-anchor="middle" class="t12">ns</text>
<text x="238.7" y="473.5" text-anchor="middle" class="t12">***</text>
<text x="289.0" y="507.1" text-anchor="middle" class="t12">*</text>
<text x="295.9" y="484.9" text-anchor="middle" class="t12">ns</text>
<text x="310.2" y="473.1" text-anchor="middle" class="t12">*</text>
<path d="M65.6,507.4V505.0H80.8V507.4M65.6,460.6V458.2H93.8V460.6M79.6,446.0V443.6H108.9V446.0M137.7,508.4V506.0H152.8V508.4M137.7,461.2V458.8H166.4V461.2M152.2,445.6V443.2H180.6V445.6M209.7,508.3V505.9H224.9V508.3M209.7,489.9V487.5H239.4V489.9M224.3,474.7V472.3H253.1V474.7M281.4,508.3V505.9H296.6V508.3M281.4,489.5V487.1H310.5V489.5M295.7,474.3V471.9H324.8V474.3" stroke="#222" stroke-width="1.2" fill="none"/>
<rect x="54.9" y="613.2" width="13.6" height="6.2" fill="#9e9da2"/>
<text x="72.7" y="620.3" class="t12">DMSO</text>
<rect x="124.8" y="613.2" width="13.6" height="6.2" fill="#f09a9a"/>
<text x="142.9" y="620.3" class="t12">USP7i</text>
<rect x="194.7" y="613.2" width="13.6" height="6.2" fill="#5b95d4"/>
<text x="211.6" y="620.3" class="t12">p97i</text>
<rect x="252.4" y="613.2" width="13.6" height="6.2" fill="#dda6cc"/>
<text x="270.6" y="620.3" class="t12">USP7i+p97i</text>
<text x="0" y="439.6" class="lab">d</text>
</svg>
</body></html>
